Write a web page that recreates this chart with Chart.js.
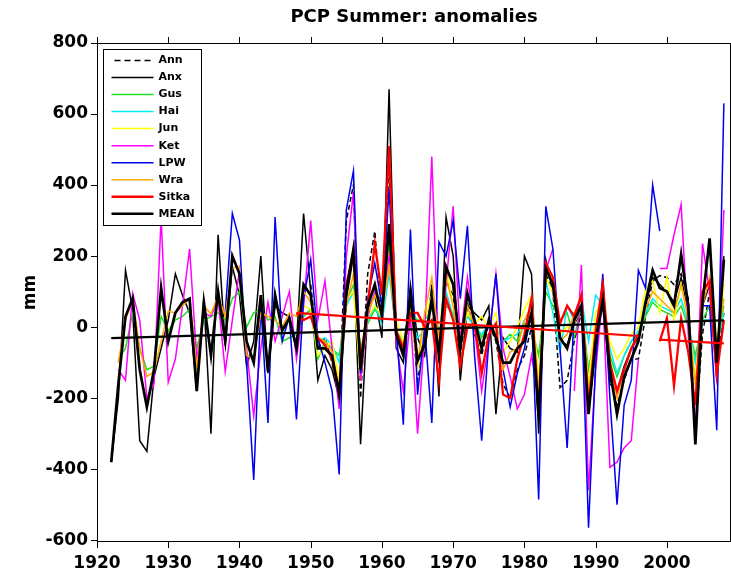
<!DOCTYPE html>
<html>
<head>
<meta charset="utf-8">
<script src="https://cdn.jsdelivr.net/npm/chart.js@4"></script>
<style>
  body { margin: 0; background: #fff; }
</style>
</head>
<body>
<canvas id="myChart" width="731" height="580"></canvas>
<script>
// years of the record
const years = [
  1922, 1923, 1924, 1925, 1926, 1927, 1928, 1929, 1930, 1931,
  1932, 1933, 1934, 1935, 1936, 1937, 1938, 1939, 1940, 1941,
  1942, 1943, 1944, 1945, 1946, 1947, 1948, 1949, 1950, 1951,
  1952, 1953, 1954, 1955, 1956, 1957, 1958, 1959, 1960, 1961,
  1962, 1963, 1964, 1965, 1966, 1967, 1968, 1969, 1970, 1971,
  1972, 1973, 1974, 1975, 1976, 1977, 1978, 1979, 1980, 1981,
  1982, 1983, 1984, 1985, 1986, 1987, 1988, 1989, 1990, 1991,
  1992, 1993, 1994, 1995, 1996, 1997, 1998, 1999, 2000, 2001,
  2002, 2003, 2004, 2005, 2006, 2007, 2008
];

const xTicks = [1920, 1930, 1940, 1950, 1960, 1970, 1980, 1990, 2000];
const yTicks = [-600, -400, -200, 0, 200, 400, 600, 800];

// summer precipitation anomalies (mm), one value per year, null = no data
const ann = [
  null, null, null, null, null, null, null, null, null, null,
  null, null, null, null, null, null, null, null, null, null,
  null, null, null, null, null, null, null, null, 120, -60,
  -30, -100, -200, 300, 400, -200, 150, 270, 20, 450,
  -10, -60, 80, -150, -40, 70, -60, 130, 90, -80,
  70, -20, -80, 10, -40, -160, -200, -120, -80, 0,
  -250, 150, 100, -170, -150, -40, 40, -240, -60, 80,
  -140, -220, -150, -90, -90, 30, 130, 145, 140, 120,
  150, 80, -290, -20, 100, -100, 40
];
const anx = [
  -380, -200, 160, 50, -320, -350, -140, -60, 20, 150,
  90, 40, -180, 80, -300, 260, -50, 170, 90, -110,
  -40, 200, -130, 60, 40, 30, -50, 320, 100, -150,
  -80, -120, -200, 80, 200, -330, 50, 90, -30, 670,
  -60, -100, 120, -30, -80, 120, -195, 310, 200, -150,
  60, 40, 20, 60, -245, -30, -60, -70, 200, 150,
  -300, 190, 100, -40, -50, 10, 40, -240, -50, 100,
  -160, -180, -110, -60, -30, 60, 140, 120, 100, 70,
  140, 40, -300, 60, 120, -140, 200
];
const gus = [
  null, -90, -60, 40, -60, -120, -110, 30, -10, 20,
  30, 50, -60, 20, 30, 40, 20, 80, 100, 0,
  40, 50, 20, 30, -40, -30, -20, 30, 50, -90,
  -40, -60, -80, 70, 120, -60, 10, 50, 20, 240,
  -20, -60, 40, 20, 20, 50, -10, 60, 40, 0,
  30, 20, -30, 10, 0, -40, -20, -40, 10, 0,
  -80, 100, 60, 20, 40, -30, 60, -120, -10, 60,
  -80, -140, -80, -40, -20, 30, 70, 50, 40, 30,
  60, 0, -80, 20, 60, -40, 60
];
const hai = [
  null, null, null, null, null, null, null, null, null, null,
  null, null, null, null, null, null, null, null, null, null,
  null, null, null, null, null, null, null, null, 40, -40,
  -30, -50, -100, 60, 100, -80, 20, 60, 10, 150,
  -10, -40, 30, -30, -10, 60, -20, 100, 30, -20,
  30, 0, -20, 10, 0, -40, -30, -20, 20, 30,
  -150, 130, 40, -70, 60, 20, 80, -40, 90, 60,
  -60, -130, -80, -40, -10, 40, 80, 60, 50, 40,
  80, 10, -100, 20, 20, -60, 40
];
const jun = [
  null, null, null, null, null, null, null, null, null, null,
  null, null, null, null, null, null, null, null, null, null,
  null, null, null, null, null, null, null, 60, 50, -80,
  -60, -40, -150, 80, 100, -150, 30, 60, 30, 200,
  20, -40, 50, -120, 20, 90, -30, 170, 60, -40,
  40, 10, 30, 0, 40, -70, -40, 0, 50, 90,
  -150, 140, 100, -20, 0, 10, 60, -160, 40, 80,
  -40, -90, -60, -20, 0, 110, 130, 40, 140, 20,
  120, 30, -150, 90, 240, -60, 120
];
const ket = [
  null, -120, -150, 95, 20, -200, -160, 310, -155, -90,
  60, 220, -90, 40, 30, 80, -125, 20, 160, -60,
  -250, -60, 70, -40, 30, 100, -90, 60, 300, 20,
  130, -60, -230, 200, 380, -150, 30, 100, 50, 200,
  -40, -180, 30, -300, -20, 480, -100, 120, 340, -40,
  140, 0, -180, -40, 150, -60, -140, -230, -190, -80,
  -200, 160, 220, null, null, -180, 175, -460, -120, 90,
  -395, -380, -340, -320, -90, null, null, 165, 165, 260,
  345, -20, -285, 235, 100, -150, 330
];
const lpw = [
  null, null, null, null, null, null, null, null, null, null,
  null, null, null, null, null, null, 40, 320, 245, -100,
  -430, 60, -270, 310, -40, 30, -260, 80, 190, -30,
  -100, -180, -415, 330, 440, -130, 80, 180, 60, 390,
  0, -275, 275, -190, 0, -270, 240, 200, 300, 80,
  285, -80, -320, -40, 150, -120, -225, -130, -60, 40,
  -485, 340, 220, -60, -340, 40, 60, -565, -100, 150,
  -200, -500, -220, -150, 160, 110, 400, 270, null, null,
  null, null, null, 60, 60, -290, 630
];
const wra = [
  null, -100, 20, 80, -60, -139, -125, -40, 45, 40,
  60, 80, -115, 60, 37, 90, 30, 167, 170, -80,
  -88, 40, 30, 20, 0, 40, 30, 100, 70, -30,
  -40, -70, -170, 60, 150, -100, 40, 90, 40, 170,
  -10, -50, 60, -100, 40, 140, -40, 140, 60, -60,
  60, 0, -50, 20, -20, -120, -70, -60, 20, 60,
  -180, 170, 130, -40, -20, 40, 80, -180, -20, 110,
  -100, -200, -120, -60, -20, 50, 100, 80, 60, 40,
  120, 20, -160, 60, 140, -60, 80
];
const sitka = [
  null, null, null, null, null, null, null, null, null, null,
  null, null, null, null, null, null, null, null, null, null,
  null, null, null, null, null, null, 40, 20, 30, -30,
  -50, -90, -180, 120, 210, -100, 60, 235, 90, 510,
  -10, -60, 40, 40, 0, 20, -150, 80, 20, -110,
  0, 10, -130, -20, 10, -190, -200, -90, -20, 80,
  -250, 180, 140, 10, 60, 30, 90, -230, -10, 120,
  -100, -180, -120, -60, -20, null, null, -40, 25, -165,
  25, -70, -220, 100, 130, -135, 20
];
const mean = [
  -380, -160, 30, 80, -120, -225, -120, 110, -40, 40,
  70, 80, -180, 70, -80, 100, -40, 200, 150, -40,
  -100, 90, -125, 90, -10, 25, -60, 120, 90, -60,
  -60, -80, -190, 100, 220, -120, 60, 120, 30, 290,
  -20, -80, 90, -95, -50, 80, -80, 170, 120, -60,
  95, 20, -60, 20, -30, -100, -100, -60, -40, 40,
  -250, 165, 120, -30, -60, 20, 60, -245, -40, 75,
  -120, -245, -140, -90, -40, 70, 160, 110, 100, 60,
  205, 60, -330, 70, 250, -100, 190
];

// linear trends
const meanTrendYears = [1922, 2008];
const meanTrend = [-31, 19];
const sitkaTrendYears1 = [1948, 1996];
const sitkaTrend1 = [40, -25];
const sitkaTrendYears2 = [1999, 2008];
const sitkaTrend2 = [-35, -46];

function toPoints(xs, values) {
  return values.map((v, i) => ({ x: xs[i], y: v }));
}

function series(label, values, color, width, dash) {
  return {
    label: label,
    data: toPoints(years, values),
    borderColor: color,
    borderWidth: width,
    borderDash: dash || [],
    inLegend: true
  };
}

const datasets = [
  series('Ann', ann, '#000000', 1.5, [5, 3]),
  series('Anx', anx, '#000000', 1.5),
  series('Gus', gus, '#22dd22', 1.5),
  series('Hai', hai, '#00eeee', 1.5),
  series('Jun', jun, '#ffff00', 1.5),
  series('Ket', ket, '#ff00ff', 1.5),
  series('LPW', lpw, '#0000ee', 1.5),
  series('Wra', wra, '#ffa500', 1.5),
  series('Sitka', sitka, '#ff0000', 2.3),
  series('MEAN', mean, '#000000', 2.7),
  { label: 'mean trend', data: toPoints(meanTrendYears, meanTrend), borderColor: '#000000', borderWidth: 2.2 },
  { label: 'sitka trend 1', data: toPoints(sitkaTrendYears1, sitkaTrend1), borderColor: '#ff0000', borderWidth: 2.2 },
  { label: 'sitka trend 2', data: toPoints(sitkaTrendYears2, sitkaTrend2), borderColor: '#ff0000', borderWidth: 2.2 }
];
// later series drawn on top
datasets.forEach((d, i) => { d.order = datasets.length - i; });

const framePlugin = {
  id: 'frame',
  afterDraw(chart) {
    const { ctx, chartArea: a, scales } = chart;
    ctx.save();
    ctx.strokeStyle = '#000';
    ctx.lineWidth = 1;
    ctx.strokeRect(a.left + 0.5, a.top + 0.5, a.right - a.left - 1, a.bottom - a.top - 1);
    ctx.beginPath();
    xTicks.forEach((v) => {
      const px = Math.round(scales.x.getPixelForValue(v)) + 0.5;
      ctx.moveTo(px, a.top); ctx.lineTo(px, a.top - 6);
      ctx.moveTo(px, a.bottom); ctx.lineTo(px, a.bottom + 6);
    });
    yTicks.forEach((v) => {
      const py = Math.round(scales.y.getPixelForValue(v)) + 0.5;
      ctx.moveTo(a.left, py); ctx.lineTo(a.left - 6, py);
    });
    ctx.stroke();

    // title
    ctx.fillStyle = '#000';
    ctx.font = 'bold 18px "DejaVu Sans"';
    ctx.textAlign = 'center';
    ctx.textBaseline = 'middle';
    ctx.fillText('PCP Summer: anomalies', (a.left + a.right) / 2, 17);

    // legend box
    const lx = a.left + 6.5, ly = a.top + 6.5, lw = 98, lh = 176;
    ctx.fillStyle = '#fff';
    ctx.fillRect(lx, ly, lw, lh);
    ctx.strokeRect(lx, ly, lw, lh);
    ctx.font = 'bold 11px "DejaVu Sans"';
    ctx.textAlign = 'left';
    chart.data.datasets.filter((d) => d.inLegend).forEach((d, i) => {
      const yy = ly + 11 + i * 17.03;
      ctx.beginPath();
      ctx.strokeStyle = d.borderColor;
      ctx.lineWidth = Math.max(1.5, d.borderWidth);
      ctx.setLineDash(d.borderDash.length ? [6, 4] : []);
      ctx.moveTo(lx + (d.borderDash.length ? 11 : 8), yy);
      ctx.lineTo(lx + 50, yy);
      ctx.stroke();
      ctx.setLineDash([]);
      ctx.fillStyle = '#000';
      ctx.fillText(d.label, lx + 55, yy);
    });
    ctx.restore();
  }
};

new Chart(document.querySelector('#myChart'), {
  type: 'line',
  data: { datasets: datasets },
  options: {
    responsive: false,
    animation: false,
    spanGaps: false,
    layout: { padding: { top: 43, right: 0, bottom: 0, left: 0 } },
    elements: { point: { radius: 0 }, line: { tension: 0 } },
    plugins: { legend: { display: false }, tooltip: { enabled: false } },
    scales: {
      x: {
        type: 'linear',
        min: 1920,
        max: 2009,
        grid: { display: false, drawTicks: false },
        border: { display: false },
        afterBuildTicks: (scale) => { scale.ticks = xTicks.map((v) => ({ value: v })); },
        afterFit: (scale) => { scale.height = 38; },
        ticks: {
          color: '#000',
          padding: 11,
          maxRotation: 0,
          font: { family: 'DejaVu Sans', size: 17, weight: 'bold' },
          callback: (v) => String(v)
        }
      },
      y: {
        min: -605,
        max: 800,
        grid: { display: false, drawTicks: false },
        border: { display: false },
        afterBuildTicks: (scale) => { scale.ticks = yTicks.map((v) => ({ value: v })); },
        afterFit: (scale) => { scale.width = 97; },
        title: {
          display: true,
          text: 'mm',
          color: '#000',
          padding: { top: 20, bottom: 0 },
          font: { family: 'DejaVu Sans', size: 17, weight: 'bold' }
        },
        ticks: {
          color: '#000',
          padding: 9,
          font: { family: 'DejaVu Sans', size: 17, weight: 'bold' },
          callback: (v) => String(v)
        }
      }
    }
  },
  plugins: [framePlugin]
});
</script>
</body>
</html>
